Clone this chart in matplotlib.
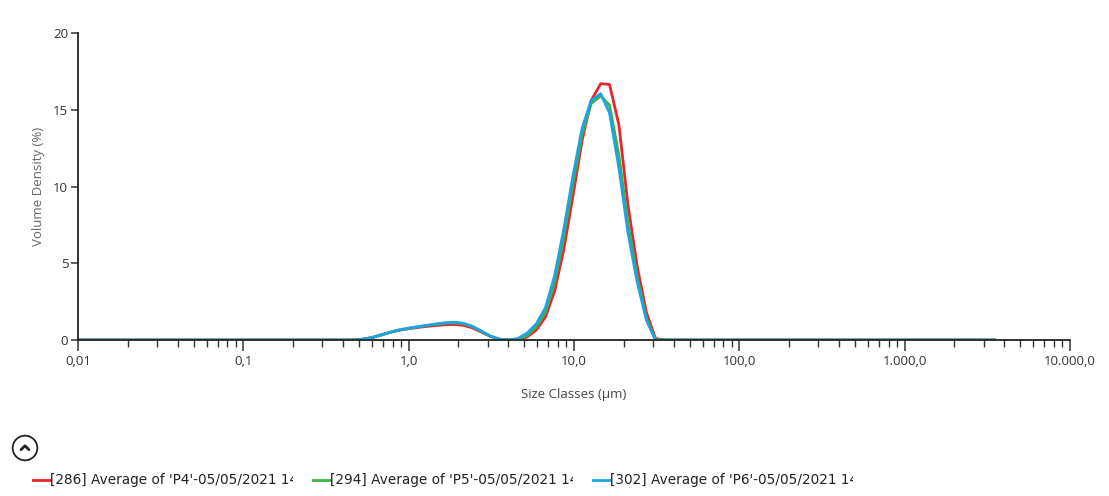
import matplotlib
matplotlib.use("Agg")
import matplotlib.pyplot as plt
from matplotlib.ticker import FixedLocator, FixedFormatter, LogLocator, NullFormatter
from matplotlib.patches import Circle

# size classes (um) - Mastersizer classes, only the ones that matter + the ends
size_um = [0.01, 0.405, 0.460, 0.523, 0.594, 0.675, 0.767, 0.872, 0.991, 1.125,
           1.279, 1.453, 1.651, 1.876, 2.131, 2.421, 2.750, 3.125, 3.550, 4.034,
           4.583, 5.207, 5.916, 6.72, 7.64, 8.67, 9.86, 11.2, 12.7, 14.5,
           16.4, 18.7, 21.2, 24.1, 27.4, 31.1, 35.3, 3500.0]

p4 = [0, 0, 0, 0.04, 0.14, 0.31, 0.49, 0.63, 0.73, 0.81,
      0.88, 0.94, 0.99, 1.01, 0.96, 0.80, 0.52, 0.23, 0.05, 0.0,
      0.02, 0.2, 0.65, 1.5, 3.2, 5.9, 9.4, 13.0, 15.6, 16.7,
      16.65, 14.0, 8.8, 4.8, 1.8, 0.1, 0, 0]
p5 = [0, 0, 0, 0.05, 0.15, 0.32, 0.50, 0.65, 0.76, 0.85,
      0.94, 1.02, 1.09, 1.12, 1.07, 0.88, 0.57, 0.25, 0.05, 0.0,
      0.05, 0.3, 0.85, 1.8, 3.8, 6.7, 10.2, 13.4, 15.4, 15.9,
      15.3, 12.0, 7.6, 4.1, 1.4, 0.0, 0, 0]
p6 = [0, 0, 0, 0.05, 0.15, 0.32, 0.50, 0.65, 0.76, 0.86,
      0.95, 1.04, 1.12, 1.16, 1.10, 0.90, 0.58, 0.25, 0.05, 0.0,
      0.1, 0.45, 1.05, 2.1, 4.2, 7.2, 10.7, 13.8, 15.6, 16.05,
      14.8, 11.2, 7.0, 3.8, 1.3, 0.0, 0, 0]

series_names = ["[286] Average of 'P4'-05/05/2021 14:",
                "[294] Average of 'P5'-05/05/2021 14:",
                "[302] Average of 'P6'-05/05/2021 14:"]
series_colors = ["#e8262b", "#3cb44b", "#1ba3e3"]

x_ticks = [0.01, 0.1, 1, 10, 100, 1000, 10000]
x_labels = ["0,01", "0,1", "1,0", "10,0", "100,0", "1.000,0", "10.000,0"]
y_ticks = [0, 5, 10, 15, 20]

plt.rcParams['font.family'] = ['Open Sans', 'DejaVu Sans']

W, H = 1109, 496
fig = plt.figure(figsize=(W / 100, H / 100), dpi=100)
ax = fig.add_axes([78 / W, 1 - 340 / H, (1070 - 78) / W, (340 - 33) / H])

for ys, c in zip([p4, p5, p6], series_colors):
    ax.plot(size_um, ys, color=c, lw=2.0, solid_joinstyle='round')

ax.set_xscale('log')
ax.set_xlim(0.01, 10000)
ax.set_ylim(0, 20)
ax.xaxis.set_major_locator(FixedLocator(x_ticks))
ax.xaxis.set_major_formatter(FixedFormatter(x_labels))
ax.xaxis.set_minor_locator(LogLocator(base=10, subs=range(2, 10), numticks=20))
ax.xaxis.set_minor_formatter(NullFormatter())
ax.set_yticks(y_ticks)

for s in ['top', 'right']:
    ax.spines[s].set_visible(False)
for s in ['left', 'bottom']:
    ax.spines[s].set_linewidth(1.3)
    ax.spines[s].set_color('#222222')

ax.tick_params(axis='x', which='major', length=8, width=1.1, color='#333333',
               labelsize=9.5, labelcolor='#333333', pad=3)
ax.tick_params(axis='x', which='minor', length=5, width=1.0, color='#333333')
ax.tick_params(axis='y', length=5, width=1.1, color='#333333',
               labelsize=9.5, labelcolor='#333333', pad=2)

ax.set_xlabel("Size Classes (µm)", fontsize=9.5, color='#444444', labelpad=14)
ax.set_ylabel("Volume Density (%)", fontsize=9.5, color='#666666', labelpad=6)

# collapse button
bax = fig.add_axes([11 / W, 1 - 462 / H, 28 / W, 28 / H])
bax.set_xlim(-1, 1)
bax.set_ylim(-1, 1)
bax.set_aspect('equal')
bax.axis('off')
bax.add_patch(Circle((0, 0), 0.88, fill=False, lw=1.3, ec='#222222'))
bax.plot([-0.28, 0, 0.28], [-0.12, 0.16, -0.12], color='#222222', lw=2.0,
         solid_capstyle='round')

# legend entries, text cut off at the right like in the app
starts = [32, 312, 592]
ends = [293, 573, 853]
for name, c, x0, x1 in zip(series_names, series_colors, starts, ends):
    lax = fig.add_axes([x0 / W, 1 - 490 / H, (x1 - x0) / W, 20 / H])
    lax.set_xlim(0, x1 - x0)
    lax.set_ylim(0, 20)
    lax.axis('off')
    lax.plot([0, 18], [10, 10], color=c, lw=2.0)
    lax.text(18, 10, name, fontsize=9.8, color='#222222', va='center', ha='left',
             family='DejaVu Sans', clip_on=True)

fig.savefig("out.png", dpi=100)
